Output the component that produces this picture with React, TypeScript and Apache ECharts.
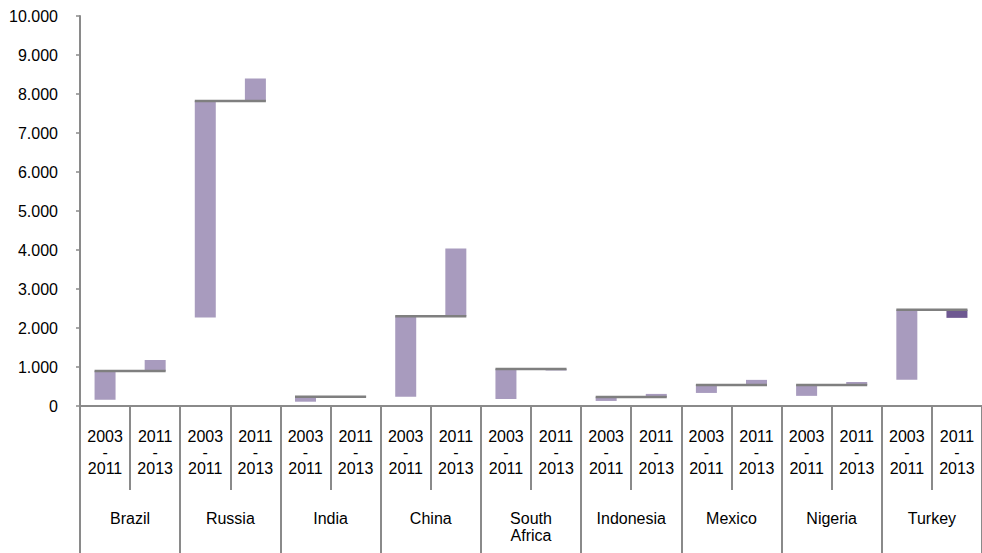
import React, { useEffect, useRef } from "react";
import * as echarts from "echarts";

// ---- data ----
const countries = ["Brazil", "Russia", "India", "China", "South\nAfrica", "Indonesia", "Mexico", "Nigeria", "Turkey"];
const periodLabels = ["2003\n-\n2011", "2011\n-\n2013"];
const level2003 = [160, 2270, 110, 240, 180, 130, 335, 260, 670];
const level2011 = [900, 7820, 240, 2300, 950, 230, 540, 540, 2470];
const level2013 = [1180, 8400, 250, 4040, 910, 310, 670, 615, 2260];
const highlightedDecline = ["Turkey"];
const yTicks = { min: 0, max: 10000, interval: 1000 };

const LIGHT = "#A89BBE";
const DARK = "#6E5891";
const GRAY = "#8a8a8a";
const FONT = "Liberation Sans, Arial, Helvetica, sans-serif";
const BAR_W = 21;

export default function App() {
  const ref = useRef<HTMLDivElement>(null);
  useEffect(() => {
    document.body.style.margin = "0";
    if (!ref.current) return;
    const chart = echarts.init(ref.current, null, { renderer: "svg" });

    const subCats: string[] = [];
    const base: number[] = [];
    const delta: any[] = [];
    countries.forEach((c, i) => {
      subCats.push(periodLabels[0]);
      const a0 = level2003[i], a1 = level2011[i];
      base.push(Math.min(a0, a1));
      delta.push({ value: Math.abs(a1 - a0), itemStyle: { color: LIGHT } });
      subCats.push(periodLabels[1]);
      const b1 = level2013[i];
      base.push(Math.min(a1, b1));
      const dark = highlightedDecline.includes(c) && b1 < a1;
      delta.push({ value: Math.abs(b1 - a1), itemStyle: { color: dark ? DARK : LIGHT } });
    });
    const lineData = countries.map((_, i) => [2 * i, 2 * i + 1, level2011[i]]);

    const fmt = (v: number) => (v >= 1000 ? `${Math.round(v / 1000)}.000` : String(v));

    chart.setOption({
      animation: false,
      grid: { left: 80, top: 16, width: 909, height: 390, containLabel: false },
      xAxis: [
        {
          type: "category",
          data: subCats,
          position: "bottom",
          axisLine: { show: true, lineStyle: { color: GRAY, width: 2 } },
          axisTick: { show: true, interval: 0, length: 84, lineStyle: { color: GRAY, width: 2 } },
          axisLabel: { interval: 0, margin: 22, fontSize: 16, lineHeight: 16, color: "#000", fontFamily: FONT },
        },
        {
          type: "category",
          data: countries,
          position: "bottom",
          axisLine: { show: false },
          axisTick: { show: true, interval: 0, length: 147, lineStyle: { color: GRAY, width: 2 } },
          axisLabel: { interval: 0, margin: 104, fontSize: 16, lineHeight: 17, color: "#000", fontFamily: FONT },
        },
      ],
      yAxis: {
        type: "value",
        min: yTicks.min,
        max: yTicks.max,
        interval: yTicks.interval,
        splitLine: { show: false },
        axisLine: { show: true, lineStyle: { color: GRAY, width: 2 } },
        axisTick: { show: true, length: 4, lineStyle: { color: GRAY, width: 1.5 } },
        axisLabel: { margin: 22, fontSize: 16, color: "#000", fontFamily: FONT, formatter: fmt },
      },
      series: [
        {
          type: "bar",
          stack: "w",
          data: base,
          barWidth: BAR_W,
          itemStyle: { color: "transparent" },
          silent: true,
        },
        {
          type: "bar",
          stack: "w",
          data: delta,
          barWidth: BAR_W,
        },
        {
          type: "custom",
          xAxisIndex: 0,
          yAxisIndex: 0,
          data: lineData,
          z: 5,
          renderItem: (params: any, api: any) => {
            const p1 = api.coord([api.value(0), api.value(2)]);
            const p2 = api.coord([api.value(1), api.value(2)]);
            return {
              type: "line",
              shape: { x1: p1[0] - BAR_W / 2, y1: p1[1], x2: p2[0] + BAR_W / 2, y2: p2[1] },
              style: { stroke: "#7f7f7f", lineWidth: 2.5 },
            };
          },
        },
      ],
    });
    return () => chart.dispose();
  }, []);
  return <div ref={ref} style={{ width: 982, height: 553 }} />;
}
